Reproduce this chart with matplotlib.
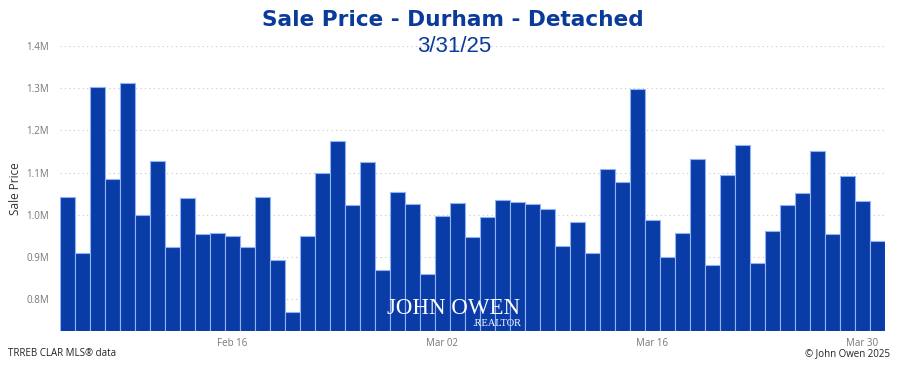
import matplotlib
matplotlib.use("Agg")
import matplotlib.pyplot as plt
import matplotlib.dates as mdates
import numpy as np
import pandas as pd

start_date = "2025-02-05"
end_date = "2025-03-31"
sale_price = [1.043, 0.910, 1.304, 1.085, 1.312, 1.000, 1.127, 0.924, 1.041, 0.954,
              0.958, 0.950, 0.923, 1.042, 0.894, 0.771, 0.949, 1.100, 1.176, 1.024,
              1.126, 0.870, 1.054, 1.025, 0.861, 0.998, 1.027, 0.948, 0.996, 1.035,
              1.030, 1.025, 1.013, 0.927, 0.982, 0.910, 1.109, 1.079, 1.298, 0.987,
              0.900, 0.957, 1.132, 0.881, 1.095, 1.166, 0.887, 0.961, 1.023, 1.053,
              1.151, 0.955, 1.092, 1.033, 0.939]
ytick_vals = [0.8, 0.9, 1.0, 1.1, 1.2, 1.3, 1.4]
ytick_labels = ["0.8M", "0.9M", "1.0M", "1.1M", "1.2M", "1.3M", "1.4M"]
xtick_dates = ["2025-02-16", "2025-03-02", "2025-03-16", "2025-03-30"]

dates = pd.date_range(start_date, end_date, freq="D")
values = np.array(sale_price) * 1e6

plt.rcParams['font.family'] = ['Open Sans', 'DejaVu Sans']
fig = plt.figure(figsize=(8.97, 3.66), dpi=100)
ax = fig.add_axes([60/897, 35/366, 825/897, 285/366])

ax.bar(dates, values, width=1.0, align="center", color="#0a3ca8",
       edgecolor="#8fb3f5", linewidth=0.8, zorder=2)

ax.set_ylim(0.725e6, 1.4e6)
ax.set_xlim(dates[0] - pd.Timedelta(hours=12), dates[-1] + pd.Timedelta(hours=12))
ax.set_yticks([v * 1e6 for v in ytick_vals])
ax.set_yticklabels(ytick_labels)
ax.set_xticks(pd.to_datetime(xtick_dates))
ax.xaxis.set_major_formatter(mdates.DateFormatter("%b %d"))
ax.tick_params(axis="both", length=0, labelsize=7, colors="#777777")
ax.tick_params(axis="y", pad=8)
ax.tick_params(axis="x", pad=5)
ax.grid(axis="y", linestyle=(0, (1, 3)), color="#c8c8c8", linewidth=0.8, zorder=0)
for s in ax.spines.values():
    s.set_visible(False)
ax.set_ylabel("Sale Price", fontsize=8.5, color="#333333", labelpad=3)

fig.text(453/897, 1 - 19.5/366, "Sale Price - Durham - Detached", ha="center", va="center",
         fontsize=15.6, fontweight="heavy", color="#0a3a9a", family="DejaVu Sans")
fig.text(454/897, 1 - 47/366, "3/31/25", ha="center", va="center",
         fontsize=16, color="#0a3a9a", family="Liberation Sans")

fig.text(8/897, 1 - 354/366, "TRREB CLAR MLS\u00ae data", ha="left", va="center",
         fontsize=7, color="#222222")
fig.text(890/897, 1 - 354/366, "\u00a9 John Owen 2025", ha="right", va="center",
         fontsize=7, color="#222222")

# watermark logo
fig.text(454/897, 1 - 309/366, "JOHN OWEN", ha="center", va="center",
         fontsize=16.5, color="white", family="Liberation Serif", zorder=5)
fig.text(521/897, 1 - 323/366, ".REALTOR", ha="right", va="center",
         fontsize=7.5, color="white", family="Liberation Serif", zorder=5)

fig.savefig("out.png", dpi=100)
